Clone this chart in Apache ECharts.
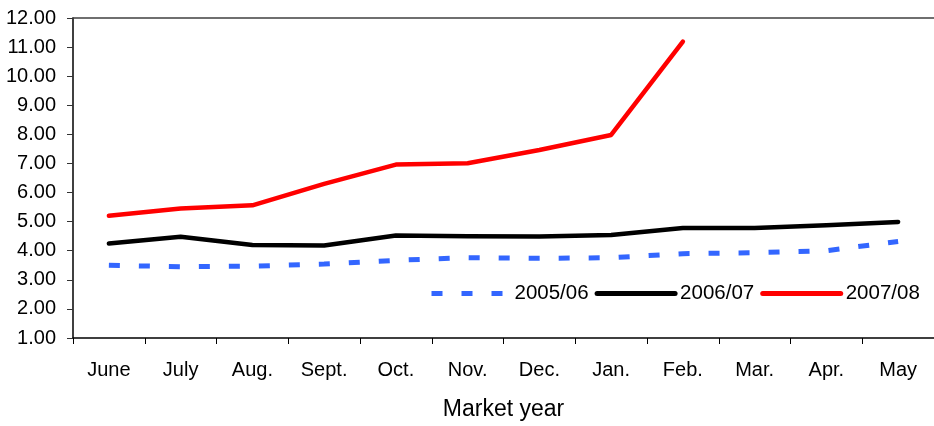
<!DOCTYPE html>
<html>
<head>
<meta charset="utf-8">
<script src="https://cdn.jsdelivr.net/npm/echarts@6/dist/echarts.min.js"></script>
<style>html,body{margin:0;padding:0;background:#fff}#c{width:934px;height:426px}</style>
</head>
<body>
<div id="c"></div>
<script>
var categories = ['June','July','Aug.','Sept.','Oct.','Nov.','Dec.','Jan.','Feb.','Mar.','Apr.','May'];
var s0506 = [3.50, 3.45, 3.47, 3.54, 3.67, 3.76, 3.74, 3.76, 3.90, 3.93, 4.00, 4.32];
var s0607 = [4.25, 4.48, 4.20, 4.18, 4.52, 4.50, 4.49, 4.54, 4.78, 4.78, 4.88, 4.99];
var s0708 = [5.20, 5.45, 5.56, 6.30, 6.96, 7.01, 7.46, 7.98, 11.19, null, null, null];
var yTicks = {min: 1, max: 12, interval: 1};

var font = 'Liberation Sans, Arial, sans-serif';
var chart = echarts.init(document.getElementById('c'));
chart.setOption({
  animation: false,
  grid: {left: 73, right: -6, top: 18, bottom: 83, containLabel: false},
  legend: {
    left: 424, top: 278, width: 520, padding: 5,
    itemWidth: 78, itemHeight: 14, itemGap: 6,
    itemStyle: {opacity: 0},
    textStyle: {fontFamily: font, fontSize: 20.5, color: '#000'},
    data: [
      {name: '2005/06', lineStyle: {color: '#3366FF', width: 5, type: [11, 19], cap: 'butt'}},
      {name: '2006/07', lineStyle: {color: '#000', width: 5, cap: 'round'}},
      {name: '2007/08', lineStyle: {color: '#FF0000', width: 5, cap: 'round'}}
    ]
  },
  xAxis: [{
    type: 'category', data: categories, boundaryGap: true,
    name: 'Market year', nameLocation: 'middle', nameGap: 60,
    nameTextStyle: {fontFamily: font, fontSize: 23, color: '#000'},
    axisLine: {lineStyle: {color: '#000', width: 1.5}},
    axisTick: {show: true, length: 6, lineStyle: {color: '#000'}},
    axisLabel: {fontFamily: font, fontSize: 20, color: '#000', margin: 22, interval: 0}
  }, {
    type: 'category', data: categories, position: 'top',
    axisLine: {show: true, lineStyle: {color: '#404040', width: 1.5}},
    axisTick: {show: false}, axisLabel: {show: false}
  }],
  yAxis: {
    type: 'value', min: yTicks.min, max: yTicks.max, interval: yTicks.interval,
    axisLine: {show: true, lineStyle: {color: '#000', width: 1.5}},
    axisTick: {show: true, length: 6, lineStyle: {color: '#333'}},
    splitLine: {show: false},
    axisLabel: {fontFamily: font, fontSize: 20, color: '#000', margin: 17,
      formatter: function (v) { return v.toFixed(2); }}
  },
  series: [
    {name: '2005/06', type: 'line', data: s0506, symbol: 'none',
     lineStyle: {color: '#3366FF', width: 5, type: [11, 19], cap: 'butt'},
     itemStyle: {color: '#3366FF'}},
    {name: '2006/07', type: 'line', data: s0607, symbol: 'none',
     lineStyle: {color: '#000', width: 4.5, cap: 'round', join: 'round'},
     itemStyle: {color: '#000'}},
    {name: '2007/08', type: 'line', data: s0708, symbol: 'none',
     lineStyle: {color: '#FF0000', width: 4.5, cap: 'round', join: 'round'},
     itemStyle: {color: '#FF0000'}}
  ]
});
</script>
</body>
</html>
